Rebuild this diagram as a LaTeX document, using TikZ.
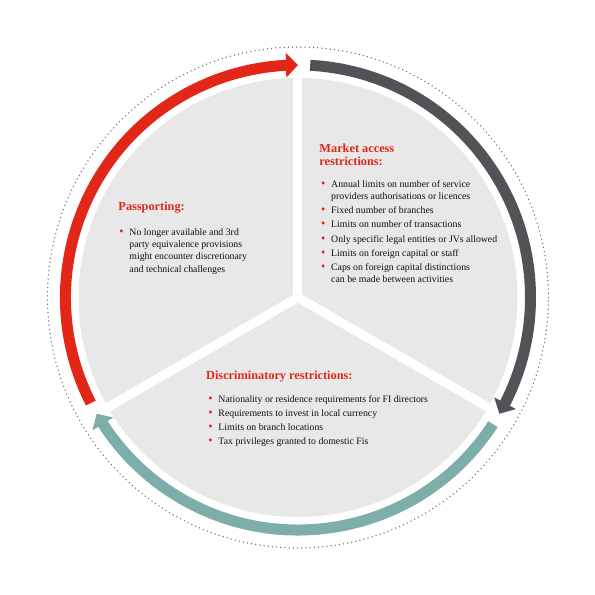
\documentclass[tikz,border=0pt]{standalone}
\usepackage{fontspec}
\setmainfont{Liberation Serif}
\usepackage{xcolor}
\usetikzlibrary{arrows.meta, bending, math}
\definecolor{pwcred}{RGB}{226,38,24}
\definecolor{ringgrey}{RGB}{84,82,87}
\definecolor{ringteal}{RGB}{126,174,169}
\definecolor{discgrey}{RGB}{232,232,232}
\definecolor{dotgrey}{RGB}{110,110,110}
\definecolor{textblack}{RGB}{15,15,15}

\newcommand{\redbul}{\makebox[10pt][l]{\textcolor{pwcred}{\scalebox{1.25}{\textbullet}}}}

\tikzset{
  ring/.style={line width=11pt, -{Triangle[width=24pt,length=12pt]}},
  heading/.style={anchor=base west, inner sep=0pt, text=pwcred, align=left,
    font=\fontsize{12.3}{12.7}\selectfont\bfseries},
  itemlist/.style={anchor=base west, inner sep=0pt, text=textblack,
    font=\fontsize{9.8}{12.2}\selectfont},
}

\begin{document}
\begin{tikzpicture}[x=1pt,y=1pt]
\tikzmath{
\Rdisc=219.5;
\Rring=232.5;
\Rdots=250.5;
}
\useasboundingbox (-298,-297.5) rectangle (297,297.5);
%disc
\fill[discgrey] (0,0) circle[radius=\Rdisc];
\foreach \a in {90,210,330}
  \draw[white, line width=9pt] (0,0) -- (\a:\Rdisc+5);
%dotted ring
\draw[dotgrey, line width=1.5pt, line cap=round, dash pattern=on 0pt off 4.2pt] (0,0) circle[radius=\Rdots];

%arrows round the disc
\draw[ring, pwcred] (207:\Rring) arc[start angle=207, end angle=90, radius=\Rring];
\draw[ring, ringgrey] (87:\Rring) arc[start angle=87, end angle=-30, radius=\Rring];
\draw[ring, ringteal] (-33:\Rring) arc[start angle=-33, end angle=-150, radius=\Rring];

%passporting
\node[heading] (passhead) at (-179.7,87) {Passporting:};
\node[itemlist] (passlist) at (-178.7,62) {\begin{tabular}[t]{@{}l@{}l@{}}
\redbul & No longer available and 3rd\\
 & party equivalence provisions\\
 & might encounter discretionary\\
 & and technical challenges
\end{tabular}};

%market access (base is the last line)
\node[heading] (markethead) at (21.3,132.5) {Market access\\restrictions:};
\node[itemlist] (marketlist) at (23,110.2) {\begin{tabular}[t]{@{}l@{}l@{}}
\redbul & Annual limits on number of service\\
 & providers authorisations or licences\\[2pt]
\redbul & Fixed number of branches\\[2pt]
\redbul & Limits on number of transactions\\[2pt]
\redbul & Only specific legal entities or JVs allowed\\[2pt]
\redbul & Limits on foreign capital or staff\\[2pt]
\redbul & Caps on foreign capital distinctions\\
 & can be made between activities
\end{tabular}};

%discriminatory
\node[heading] (dischead) at (-92,-81.5) {Discriminatory restrictions:};
\node[itemlist] (disclist) at (-89.7,-104.8) {\begin{tabular}[t]{@{}l@{}l@{}}
\redbul & Nationality or residence requirements for FI directors\\[2pt]
\redbul & Requirements to invest in local currency\\[2pt]
\redbul & Limits on branch locations\\[2pt]
\redbul & Tax privileges granted to domestic Fis
\end{tabular}};
\end{tikzpicture}
\end{document}
